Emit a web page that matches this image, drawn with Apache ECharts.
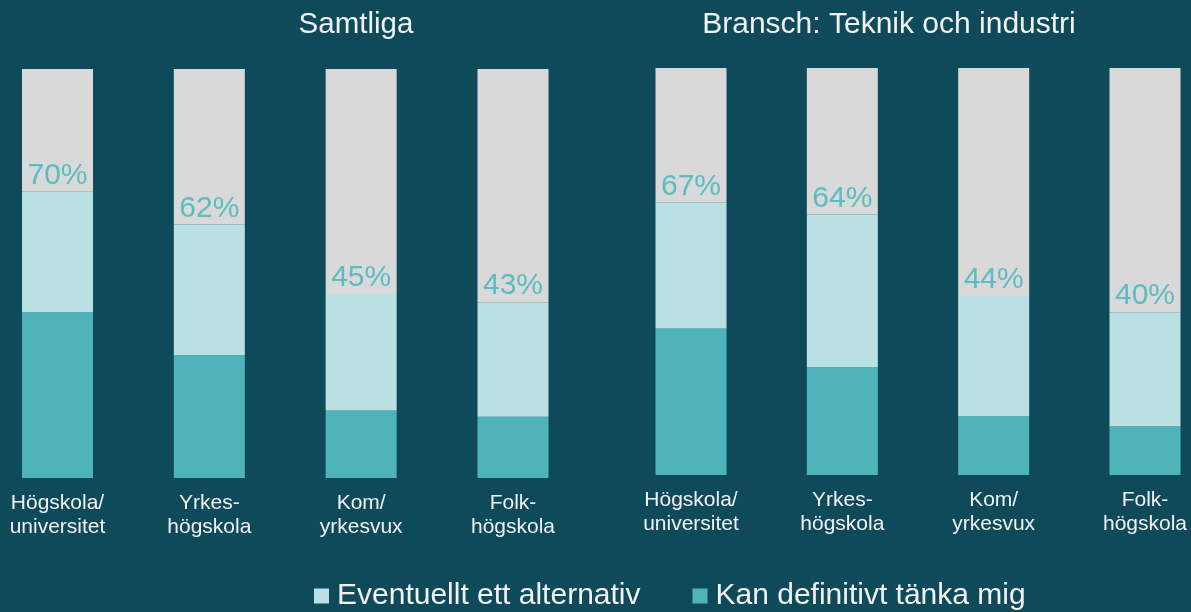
<!DOCTYPE html>
<html>
<head>
<meta charset="utf-8">
<script src="https://cdn.jsdelivr.net/npm/echarts@6/dist/echarts.min.js"></script>
<style>
html,body{margin:0;padding:0;background:#0f4a5a;}
#chart{width:1191px;height:612px;}
</style>
</head>
<body>
<div id="chart"></div>
<script>
const categories = ['Högskola/\nuniversitet', 'Yrkes-\nhögskola', 'Kom/\nyrkesvux', 'Folk-\nhögskola'];
const panelTitles = ['Samtliga', 'Bransch: Teknik och industri'];
// Total share (definitivt + eventuellt), in %
const totalSamtliga = [70, 62, 45, 43];
const totalTeknik = [67, 64, 44, 40];
// "Kan definitivt tänka mig", in %
const definitivtSamtliga = [40.5, 30, 16.5, 15];
const definitivtTeknik = [36, 26.5, 14.5, 12];
const seriesNames = ['Kan definitivt tänka mig', 'Eventuellt ett alternativ', 'Övrigt'];

const C_DARK = '#4fb4b9', C_LIGHT = '#b9e1e3', C_GREY = '#d9d9d9', C_LABEL = '#5bbdc1';
const FONT = 'Liberation Sans, Arial, sans-serif';

function panelSeries(idx, totals, defs) {
  const light = totals.map((t, i) => +(t - defs[i]).toFixed(2));
  const rest = totals.map(t => 100 - t);
  const common = { type: 'bar', stack: 'p' + idx, xAxisIndex: idx, yAxisIndex: idx, barWidth: 71, clip: false, animation: false };
  return [
    Object.assign({}, common, { name: seriesNames[0], data: defs, itemStyle: { color: C_DARK } }),
    Object.assign({}, common, { name: seriesNames[1], data: light, itemStyle: { color: C_LIGHT },
      label: { show: true, position: 'top', distance: 1, color: C_LABEL, fontSize: 30, fontFamily: FONT,
        formatter: p => totals[p.dataIndex] + '%' } }),
    Object.assign({}, common, { name: seriesNames[2], data: rest, itemStyle: { color: C_GREY } })
  ];
}

const grids = [
  { left: 57.5, width: 455.5, top: 69, height: 409 },
  { left: 691, width: 454, top: 68, height: 407 }
];

const option = {
  backgroundColor: '#0f4a5a',
  title: [
    { text: panelTitles[0], left: 351, top: 5, textAlign: 'center', textStyle: { color: '#f2f2f2', fontSize: 29.5, fontWeight: 'normal', fontFamily: FONT } },
    { text: panelTitles[1], left: 884, top: 5, textAlign: 'center', textStyle: { color: '#f2f2f2', fontSize: 30, fontWeight: 'normal', fontFamily: FONT } }
  ],
  legend: {
    data: [seriesNames[1], seriesNames[0]],
    left: 309, top: 576, itemWidth: 15, itemHeight: 15, itemGap: 52, icon: 'rect',
    textStyle: { color: '#f2f2f2', fontSize: 30, fontFamily: FONT, padding: [0, 0, 0, 3] },
    selectedMode: false
  },
  grid: grids,
  xAxis: [0, 1].map(i => ({
    type: 'category', gridIndex: i, data: categories, boundaryGap: false,
    axisLine: { show: false }, axisTick: { show: false }, splitLine: { show: false },
    axisLabel: { color: '#f2f2f2', fontSize: 21, lineHeight: 24, margin: 13, fontFamily: FONT, interval: 0 }
  })),
  yAxis: [0, 1].map(i => ({
    type: 'value', gridIndex: i, min: 0, max: 100, show: false, splitLine: { show: false }
  })),
  series: [].concat(panelSeries(0, totalSamtliga, definitivtSamtliga), panelSeries(1, totalTeknik, definitivtTeknik))
};

const chart = echarts.init(document.getElementById('chart'), null, { renderer: 'canvas' });
chart.setOption(option);
</script>
</body>
</html>
